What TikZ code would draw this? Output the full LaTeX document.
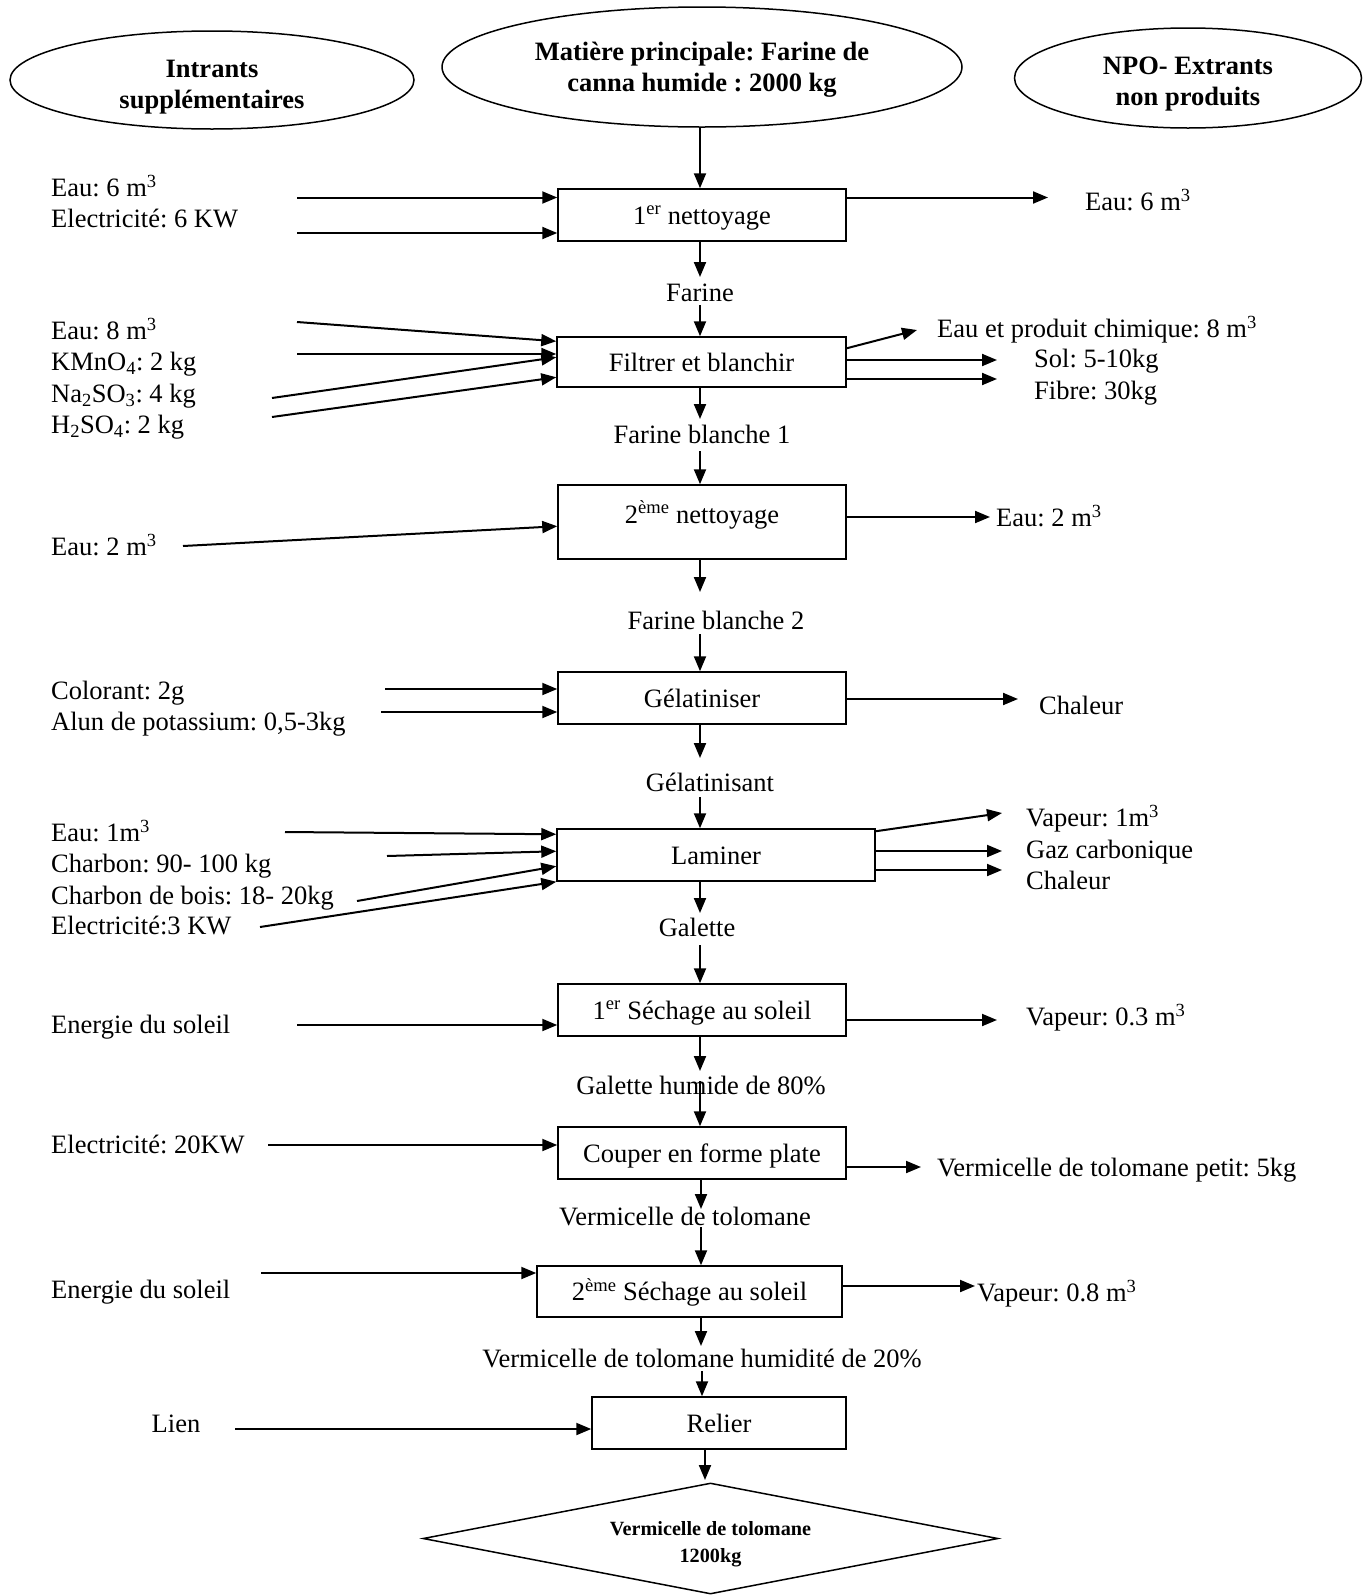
\documentclass[tikz,border=0pt]{standalone}
\usepackage{fontspec}
\setmainfont{Liberation Serif}
\usetikzlibrary{shapes.geometric,arrows.meta}
\frenchspacing
\begin{document}
\begin{tikzpicture}[x=1pt,y=-1pt,
  every node/.style={font=\fontsize{26.5}{31}\selectfont},
  ell/.style={ellipse, draw, line width=1.5pt, inner sep=0pt, align=center,
              font=\bfseries\fontsize{26.5}{31}\selectfont},
  pbox/.style={draw, line width=1.5pt, inner sep=0pt, minimum height=52pt,
               text height=18pt, text depth=0pt},
  lab/.style={anchor=west, inner sep=0pt, text height=17.5pt, text depth=0pt},
  mid/.style={inner sep=0pt, text height=17.5pt, text depth=0pt},
  flow/.style={line width=2pt, -{Triangle[length=15pt,width=12pt]}},
  prod/.style={diamond, aspect=5.18, draw, line width=1.5pt, inner sep=0pt, align=center,
               text height=53pt, font=\bfseries\fontsize{20.2}{27}\selectfont}]
\useasboundingbox (0,0) rectangle (1372,1596);

% --- headings ---
\node[ell, text height=63pt, minimum width=404pt, minimum height=98pt] (ein) at (212,80)
  {Intrants\\supplémentaires};
\node[ell, text height=54pt, minimum width=520pt, minimum height=120pt] (emain) at (702,67)
  {Matière principale: Farine de\\canna humide : 2000 kg};
\node[ell, text height=61pt, minimum width=347pt, minimum height=100pt] (eout) at (1188,78)
  {NPO- Extrants\\non produits};

% --- process steps ---
\node[pbox, minimum width=288pt] (b1) at (702,215) {1\textsuperscript{er} nettoyage};
\node[pbox, minimum width=289pt, minimum height=50pt] (b2) at (701.5,362) {Filtrer et blanchir};
\node[pbox, minimum width=288pt, minimum height=74pt] (b3) at (702,522) {\raisebox{8pt}{2\textsuperscript{ème} nettoyage}};
\node[pbox, minimum width=288pt] (b4) at (702,698) {Gélatiniser};
\node[pbox, minimum width=318pt] (b5) at (716,855) {Laminer};
\node[pbox, minimum width=288pt] (b6) at (702,1010) {1\textsuperscript{er} Séchage au soleil};
\node[pbox, minimum width=288pt] (b7) at (702,1153) {Couper en forme plate};
\node[pbox, minimum width=305pt, minimum height=51pt] (b8) at (689.5,1291.5) {2\textsuperscript{ème} Séchage au soleil};
\node[pbox, minimum width=254pt] (b9) at (719,1423) {Relier};
\node[prod, minimum width=575pt, minimum height=111pt] (fin) at (710.5,1538.5)
  {Vermicelle de tolomane\\1200kg};

% --- intermediate products ---
\node[mid] (f1) at (700,293) {Farine};
\node[mid] (f2) at (702,435) {Farine blanche 1};
\node[mid] (f3) at (716,621) {Farine blanche 2};
\node[mid] (f4) at (710,783) {Gélatinisant};
\node[mid] (f5) at (697,928) {Galette};
\node[mid] (f6) at (701,1086) {Galette humide de 80\%};
\node[mid] (f7) at (685,1217) {Vermicelle de tolomane};
\node[mid] (f8) at (702,1359) {Vermicelle de tolomane humidité de 20\%};

% --- main flow ---
\coordinate (t1) at (700,277);  \coordinate (s1) at (700,305);
\coordinate (t2) at (700,419);  \coordinate (s2) at (700,451);
\coordinate (t3) at (700,592);  \coordinate (s3) at (700,634);
\coordinate (t4) at (700,758);  \coordinate (s4) at (700,797);
\coordinate (t5) at (700,913);  \coordinate (s5) at (700,945);
\coordinate (t6) at (700,1071); \coordinate (s6) at (700,1081);
\coordinate (t7) at (701,1209); \coordinate (s7) at (701,1227);
\coordinate (t8) at (701,1346); \coordinate (s8) at (702,1371);
\coordinate (t9) at (705,1480);

\draw[flow] (emain.south -| t1) -- (b1.north -| t1);
\draw[flow] (b1.south -| t1) -- (t1);  \draw[flow] (s1) -- (b2.north -| s1);
\draw[flow] (b2.south -| t2) -- (t2);  \draw[flow] (s2) -- (b3.north -| s2);
\draw[flow] (b3.south -| t3) -- (t3);  \draw[flow] (s3) -- (b4.north -| s3);
\draw[flow] (b4.south -| t4) -- (t4);  \draw[flow] (s4) -- (b5.north -| s4);
\draw[flow] (b5.south -| t5) -- (t5);  \draw[flow] (s5) -- (b6.north -| s5);
\draw[flow] (b6.south -| t6) -- (t6);  \draw[flow] (s6) -- (b7.north -| s6);
\draw[flow] (b7.south -| t7) -- (t7);  \draw[flow] (s7) -- (b8.north -| s7);
\draw[flow] (b8.south -| t8) -- (t8);  \draw[flow] (s8) -- (b9.north -| s8);
\draw[flow] (b9.south -| t9) -- (t9);

% --- supplementary inputs ---
\node[lab] (a1) at (51,188) {Eau: 6 m\textsuperscript{3}};
\node[lab] (a2) at (51,219) {Electricité: 6 KW};
\node[lab] (a3) at (51,331) {Eau: 8 m\textsuperscript{3}};
\node[lab] (a4) at (51,362) {KMnO\textsubscript{4}: 2 kg};
\node[lab] (a5) at (51,394) {Na\textsubscript{2}SO\textsubscript{3}: 4 kg};
\node[lab] (a6) at (51,425) {H\textsubscript{2}SO\textsubscript{4}: 2 kg};
\node[lab] (a7) at (51,547) {Eau: 2 m\textsuperscript{3}};
\node[lab] (a8) at (51,691) {Colorant: 2g};
\node[lab] (a9) at (51,722) {Alun de potassium: 0,5-3kg};
\node[lab] (a10) at (51,833) {Eau: 1m\textsuperscript{3}};
\node[lab] (a11) at (51,864) {Charbon: 90- 100 kg};
\node[lab] (a12) at (51,896) {Charbon de bois: 18- 20kg};
\node[lab] (a13) at (51,926) {Electricité:3 KW};
\node[lab] (a14) at (51,1025) {Energie du soleil};
\node[lab] (a15) at (51,1145) {Electricité: 20KW};
\node[lab] (a16) at (51,1290) {Energie du soleil};
\node[mid] (a17) at (176,1424) {Lien};

\coordinate (i1a) at (297,197.5); \coordinate (i1b) at (297,233);
\draw[flow] (i1a) -- (i1a -| b1.west);
\draw[flow] (i1b) -- (i1b -| b1.west);

\coordinate (i2a) at (297,322); \coordinate (i2b) at (297,354);
\coordinate (i2c) at (272,398); \coordinate (i2d) at (272,417);
\draw[flow] (i2a) -- ([yshift=-5pt]b2.north west);
\draw[flow] (i2b) -- (i2b -| b2.west);
\draw[flow] (i2c) -- ([yshift=-21pt]b2.north west);
\draw[flow] (i2d) -- ([yshift=-41pt]b2.north west);

\coordinate (i3) at (183,546);
\draw[flow] (i3) -- ([yshift=-42pt]b3.north west);

\coordinate (i4a) at (385,689); \coordinate (i4b) at (381,712);
\draw[flow] (i4a) -- (i4a -| b4.west);
\draw[flow] (i4b) -- (i4b -| b4.west);

\coordinate (i5a) at (285,832); \coordinate (i5b) at (387,856);
\coordinate (i5c) at (357,901); \coordinate (i5d) at (260,927);
\draw[flow] (i5a) -- ([yshift=-6pt]b5.north west);
\draw[flow] (i5b) -- ([yshift=-23pt]b5.north west);
\draw[flow] (i5c) -- ([yshift=-38pt]b5.north west);
\draw[flow] (i5d) -- (b5.south west);

\coordinate (i6) at (297,1025);
\draw[flow] (i6) -- (i6 -| b6.west);
\coordinate (i7) at (268,1145);
\draw[flow] (i7) -- (i7 -| b7.west);
\coordinate (i8) at (261,1273);
\draw[flow] (i8) -- (i8 -| b8.west);
\coordinate (i9) at (235,1429);
\draw[flow] (i9) -- (i9 -| b9.west);

% --- non-product outputs ---
\node[lab] (n1) at (1085,202) {Eau: 6 m\textsuperscript{3}};
\node[lab] (n2) at (937,329) {Eau et produit chimique: 8 m\textsuperscript{3}};
\node[lab] (n3) at (1034,359) {Sol: 5-10kg};
\node[lab] (n4) at (1034,391) {Fibre: 30kg};
\node[lab] (n5) at (996,518) {Eau: 2 m\textsuperscript{3}};
\node[lab] (n6) at (1039,706) {Chaleur};
\node[lab] (n7) at (1026,818) {Vapeur: 1m\textsuperscript{3}};
\node[lab] (n8) at (1026,850) {Gaz carbonique};
\node[lab] (n9) at (1026,881) {Chaleur};
\node[lab] (n10) at (1026,1017) {Vapeur: 0.3 m\textsuperscript{3}};
\node[lab] (n11) at (937,1168) {Vermicelle de tolomane petit: 5kg};
\node[lab] (n12) at (977,1293) {Vapeur: 0.8 m\textsuperscript{3}};

\coordinate (o1) at (1048,197.5);
\draw[flow] (o1 -| b1.east) -- (o1);

\coordinate (o2a) at (917,330); \coordinate (o2b) at (997,360); \coordinate (o2c) at (997,379);
\draw[flow] ([yshift=-12pt]b2.north east) -- (o2a);
\draw[flow] (o2b -| b2.east) -- (o2b);
\draw[flow] (o2c -| b2.east) -- (o2c);

\coordinate (o3) at (990,517);
\draw[flow] (o3 -| b3.east) -- (o3);
\coordinate (o4) at (1018,699);
\draw[flow] (o4 -| b4.east) -- (o4);

\coordinate (o5a) at (1002,813); \coordinate (o5b) at (1002,851); \coordinate (o5c) at (1002,870);
\draw[flow] ([yshift=-3pt]b5.north east) -- (o5a);
\draw[flow] (o5b -| b5.east) -- (o5b);
\draw[flow] (o5c -| b5.east) -- (o5c);

\coordinate (o6) at (997,1020);
\draw[flow] (o6 -| b6.east) -- (o6);
\coordinate (o7) at (921,1167);
\draw[flow] (o7 -| b7.east) -- (o7);
\coordinate (o8) at (975,1286);
\draw[flow] (o8 -| b8.east) -- (o8);
\end{tikzpicture}
\end{document}
